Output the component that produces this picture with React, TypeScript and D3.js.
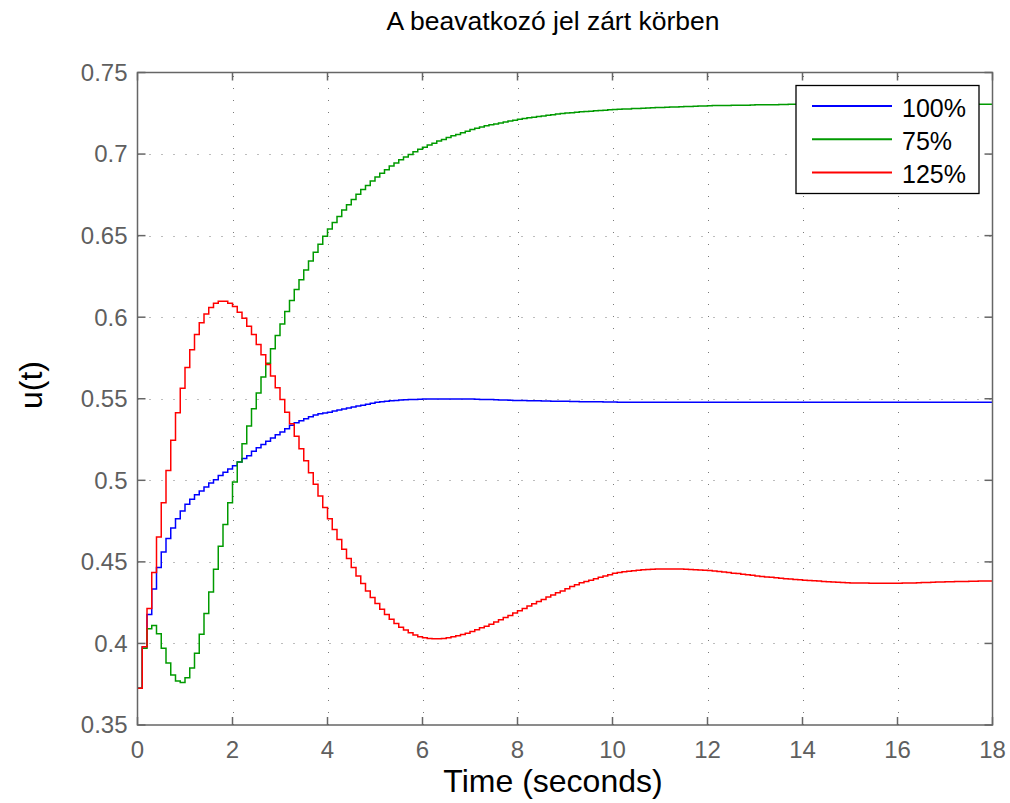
import React from "react";
import * as d3 from "d3";

// Sample time of the discrete signals (seconds)
const dt = 0.1;

// u(t) for the nominal plant (100%), read per 0.1 s from the picture
const series100: number[] = [
  0.3725, 0.398, 0.4178, 0.4333, 0.4465, 0.456, 0.4643, 0.4708, 0.4765, 0.4812,
  0.4853, 0.4884, 0.4912, 0.4935, 0.4959, 0.4984, 0.5004, 0.503, 0.505, 0.507,
  0.509, 0.5112, 0.5133, 0.515, 0.5178, 0.52, 0.522, 0.524, 0.526, 0.528,
  0.5296, 0.5316, 0.5337, 0.5353, 0.5365, 0.5378, 0.539, 0.54, 0.5408, 0.5413,
  0.5418, 0.5425, 0.5431, 0.5437, 0.5443, 0.5449, 0.5455, 0.546, 0.5466, 0.5472,
  0.5478, 0.5481, 0.5484, 0.5487, 0.549, 0.5492, 0.5494, 0.5495, 0.5496, 0.5497,
  0.5498, 0.5499, 0.5499, 0.5499, 0.5499, 0.5499, 0.5499, 0.5499, 0.5498, 0.5498,
  0.5498, 0.5497, 0.5496, 0.5495, 0.5495, 0.5494, 0.5493, 0.5492, 0.5491, 0.549,
  0.549, 0.5489, 0.5488, 0.5487, 0.5487, 0.5486, 0.5486, 0.5485, 0.5485, 0.5484,
  0.5484, 0.5483, 0.5483, 0.5482, 0.5482, 0.5481, 0.5481, 0.5481, 0.548, 0.548,
  0.548, 0.5479, 0.5479, 0.5479, 0.5479, 0.5479, 0.5479, 0.5479, 0.5479, 0.5479,
  0.5478, 0.5478, 0.5478, 0.5478, 0.5478, 0.5478, 0.5478, 0.5478, 0.5478, 0.5478,
  0.5478, 0.5478, 0.5478, 0.5478, 0.5478, 0.5478, 0.5478, 0.5478, 0.5478, 0.5478,
  0.5478, 0.5478, 0.5478, 0.5478, 0.5478, 0.5478, 0.5478, 0.5478, 0.5478, 0.5478,
  0.5479, 0.5479, 0.5479, 0.5479, 0.5479, 0.5479, 0.5479, 0.5479, 0.5479, 0.5479,
  0.5479, 0.5479, 0.5479, 0.5479, 0.5479, 0.5479, 0.5479, 0.5479, 0.5479, 0.5479,
  0.5479, 0.5479, 0.5479, 0.5479, 0.5479, 0.5479, 0.5479, 0.5479, 0.5479, 0.5479,
  0.5479, 0.5479, 0.5479, 0.5479, 0.5479, 0.5479, 0.5479, 0.5479, 0.5479, 0.5479,
  0.5479,
];

// u(t) for 75% plant
const series75: number[] = [
  0.3725, 0.397, 0.409, 0.411, 0.406, 0.397, 0.388, 0.3806, 0.377, 0.376,
  0.379, 0.385, 0.394, 0.4057, 0.4184, 0.4316, 0.4455, 0.4596, 0.4729, 0.4863,
  0.499, 0.5112, 0.5224, 0.5333, 0.5439, 0.5535, 0.5633, 0.5718, 0.5806, 0.5888,
  0.5959, 0.6035, 0.6102, 0.6169, 0.623, 0.629, 0.6345, 0.6398, 0.6447, 0.6496,
  0.6541, 0.658, 0.6618, 0.6657, 0.669, 0.6722, 0.6753, 0.6782, 0.6808, 0.6835,
  0.6859, 0.6882, 0.6904, 0.6927, 0.6945, 0.6965, 0.6982, 0.6998, 0.7014, 0.7029,
  0.7041, 0.7055, 0.7067, 0.708, 0.709, 0.7102, 0.7112, 0.712, 0.713, 0.714,
  0.715, 0.7158, 0.7166, 0.7173, 0.7179, 0.7185, 0.7191, 0.7197, 0.7203, 0.7208,
  0.7213, 0.7218, 0.7222, 0.7226, 0.723, 0.7234, 0.7238, 0.7241, 0.7245, 0.7248,
  0.7251, 0.7254, 0.7256, 0.7259, 0.7261, 0.7263, 0.7265, 0.7267, 0.7269, 0.7271,
  0.7273, 0.7275, 0.7276, 0.7277, 0.7279, 0.728, 0.7281, 0.7282, 0.7284, 0.7285,
  0.7286, 0.7287, 0.7288, 0.7289, 0.729, 0.7291, 0.7292, 0.7293, 0.7294, 0.7295,
  0.7296, 0.7297, 0.7297, 0.7298, 0.7298, 0.7299, 0.7299, 0.73, 0.73, 0.7301,
  0.7302, 0.7302, 0.7302, 0.7303, 0.7303, 0.7304, 0.7304, 0.7305, 0.7305, 0.7305,
  0.7306, 0.7306, 0.7306, 0.7306, 0.7306, 0.7306, 0.7306, 0.7306, 0.7306, 0.7306,
  0.7307, 0.7307, 0.7307, 0.7307, 0.7307, 0.7307, 0.7307, 0.7307, 0.7307, 0.7307,
  0.7307, 0.7306, 0.7306, 0.7306, 0.7306, 0.7306, 0.7306, 0.7306, 0.7306, 0.7306,
  0.7306, 0.7306, 0.7306, 0.7306, 0.7306, 0.7306, 0.7306, 0.7306, 0.7306, 0.7306,
  0.7306,
];

// u(t) for 125% plant
const series125: number[] = [
  0.3725, 0.398, 0.4214, 0.4435, 0.4653, 0.4863, 0.506, 0.5245, 0.5414, 0.5565,
  0.5692, 0.58, 0.5894, 0.5966, 0.602, 0.606, 0.6086, 0.6098, 0.6098, 0.6086,
  0.6065, 0.603, 0.5994, 0.5945, 0.5894, 0.5833, 0.577, 0.571, 0.564, 0.5567,
  0.5496, 0.5418, 0.5347, 0.527, 0.5194, 0.512, 0.5047, 0.4976, 0.4904, 0.4833,
  0.4765, 0.4698, 0.4637, 0.4578, 0.452, 0.4465, 0.4414, 0.4367, 0.4322, 0.4282,
  0.4245, 0.421, 0.4178, 0.4149, 0.4122, 0.41, 0.4082, 0.4065, 0.4051, 0.4041,
  0.4035, 0.4031, 0.4029, 0.4029, 0.4031, 0.4035, 0.4041, 0.4047, 0.4055, 0.4063,
  0.4073, 0.4084, 0.4096, 0.4106, 0.4118, 0.4131, 0.4145, 0.4159, 0.4171, 0.4186,
  0.42, 0.4214, 0.4229, 0.4243, 0.4257, 0.4269, 0.4284, 0.4297, 0.431, 0.4322,
  0.4335, 0.4349, 0.436, 0.4372, 0.438, 0.4388, 0.4397, 0.4406, 0.4414, 0.4421,
  0.443, 0.4435, 0.4439, 0.4443, 0.4446, 0.4449, 0.4452, 0.4454, 0.4455, 0.4456,
  0.4457, 0.4457, 0.4457, 0.4456, 0.4456, 0.4455, 0.4453, 0.4452, 0.445, 0.4449,
  0.4447, 0.4444, 0.4441, 0.4438, 0.4435, 0.4431, 0.4428, 0.4424, 0.4421, 0.4418,
  0.4414, 0.4411, 0.4408, 0.4405, 0.4403, 0.44, 0.4397, 0.4395, 0.4392, 0.439,
  0.4388, 0.4386, 0.4384, 0.4382, 0.438, 0.4378, 0.4377, 0.4375, 0.4374, 0.4372,
  0.4371, 0.4371, 0.437, 0.437, 0.4369, 0.4369, 0.4369, 0.4369, 0.4369, 0.4369,
  0.4369, 0.437, 0.437, 0.4371, 0.4372, 0.4373, 0.4374, 0.4375, 0.4376, 0.4377,
  0.4378, 0.4378, 0.4379, 0.4379, 0.438, 0.4381, 0.4381, 0.4382, 0.4383, 0.4383,
  0.4384,
];

const seriesNames = ["100%", "75%", "125%"];
const seriesColors = ["#0000ff", "#009a00", "#ff0000"];
const xTicks = [0, 2, 4, 6, 8, 10, 12, 14, 16, 18];
const yTicks = [0.35, 0.4, 0.45, 0.5, 0.55, 0.6, 0.65, 0.7, 0.75];
const yTickLabels = ["0.35", "0.4", "0.45", "0.5", "0.55", "0.6", "0.65", "0.7", "0.75"];
const titleText = "A beavatkozó jel zárt körben";
const xLabel = "Time (seconds)";
const yLabel = "u(t)";

const W = 1010;
const H = 803;
const L = 137.5;
const R = 992.5;
const T = 72.5;
const B = 725;
const FONT = "'Liberation Sans', Arial, Helvetica, sans-serif";
const AXIS = "#666666";

export default function App() {
  const x = d3.scaleLinear().domain([0, 18]).range([L, R]);
  const y = d3.scaleLinear().domain([0.35, 0.75]).range([B, T]);
  const all = [series100, series75, series125];
  const line = d3
    .line<number>()
    .x((_, i) => x(i * dt))
    .y((v) => y(v))
    .curve(d3.curveStepAfter);
  const tickLen = 8;

  return (
    <svg
      width={W}
      height={H}
      style={{ position: "absolute", left: 0, top: 0, background: "#fff" }}
      fontFamily={FONT}
    >
      <rect x={0} y={0} width={W} height={H} fill="#fff" />
      <defs>
        <clipPath id="plotclip">
          <rect x={L} y={T} width={R - L} height={B - T} />
        </clipPath>
      </defs>
      {/* grid */}
      <g stroke="#7a7a7a" strokeWidth={1} strokeDasharray="1 11">
        {xTicks.slice(1, -1).map((t) => (
          <line key={"gx" + t} x1={Math.round(x(t)) + 0.5} x2={Math.round(x(t)) + 0.5} y1={B} y2={T} />
        ))}
        {yTicks.slice(1, -1).map((t) => (
          <line key={"gy" + t} x1={L} x2={R} y1={Math.round(y(t)) + 0.5} y2={Math.round(y(t)) + 0.5} />
        ))}
      </g>
      {/* data */}
      <g clipPath="url(#plotclip)" fill="none">
        {all.map((s, k) => (
          <path key={k} d={line(s) || ""} stroke={seriesColors[k]} strokeWidth={1.5} />
        ))}
      </g>
      {/* axes box and ticks */}
      <g stroke={AXIS} strokeWidth={1.5} fill="none">
        <rect x={L} y={T} width={R - L} height={B - T} />
        {xTicks.map((t) => (
          <g key={"tx" + t}>
            <line x1={x(t)} x2={x(t)} y1={B} y2={B - tickLen} />
            <line x1={x(t)} x2={x(t)} y1={T} y2={T + tickLen} />
          </g>
        ))}
        {yTicks.map((t) => (
          <g key={"ty" + t}>
            <line x1={L} x2={L + tickLen} y1={y(t)} y2={y(t)} />
            <line x1={R} x2={R - tickLen} y1={y(t)} y2={y(t)} />
          </g>
        ))}
      </g>
      {/* tick labels */}
      <g fill="#5f5f5f" fontSize={24}>
        {xTicks.map((t) => (
          <text key={"lx" + t} x={x(t)} y={758} textAnchor="middle">
            {String(t)}
          </text>
        ))}
        {yTicks.map((t, i) => (
          <text key={"ly" + t} x={127.5} y={y(t)} dy="0.35em" textAnchor="end">
            {yTickLabels[i]}
          </text>
        ))}
      </g>
      {/* title and labels */}
      <text x={553} y={30} textAnchor="middle" fontSize={26.5} fill="#000">
        {titleText}
      </text>
      <text x={553} y={792} textAnchor="middle" fontSize={32} fill="#000">
        {xLabel}
      </text>
      <text
        transform={`translate(42,385) rotate(-90)`}
        textAnchor="middle"
        fontSize={32}
        fill="#000"
      >
        {yLabel}
      </text>
      {/* legend */}
      <g>
        <rect x={796} y={85.5} width={183} height={108} fill="#fff" stroke="#000" strokeWidth={1.3} />
        {seriesNames.map((n, i) => {
          const ly = 106 + i * 33.3;
          return (
            <g key={n}>
              <line x1={812} x2={892} y1={ly} y2={ly} stroke={seriesColors[i]} strokeWidth={2} />
              <text x={902} y={ly + 10.5} fontSize={25} fill="#000">
                {n}
              </text>
            </g>
          );
        })}
      </g>
    </svg>
  );
}
